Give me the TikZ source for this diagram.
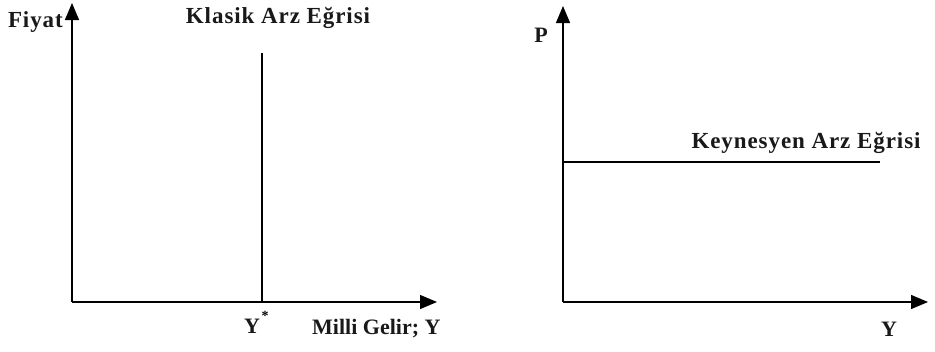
\documentclass[tikz,border=0pt]{standalone}
\usepackage{fontspec}
\setmainfont{Liberation Serif}
\newfontfamily\widefont[LetterSpace=4]{Liberation Serif}
\usetikzlibrary{arrows.meta}
\begin{document}
\begin{tikzpicture}[x=1pt,y=-1pt,
  axis/.style={line width=1.3pt,-{Triangle[width=14pt,length=17pt]}},
  curve/.style={line width=1.3pt},
  lbl/.style={font=\widefont\bfseries\fontsize{23}{25}\selectfont,inner sep=0pt,text=black!90},
  lbln/.style={font=\bfseries\fontsize{22}{24}\selectfont,inner sep=0pt,text=black!90}]
\useasboundingbox (0,0) rectangle (935,351);
% left panel
\coordinate (O1) at (72,302);
\coordinate (Y1) at (72,3);
\coordinate (X1) at (437,302);
\draw[axis] (O1) -- (Y1);
\draw[axis] (O1) -- (X1);
\coordinate (K1) at (262,53);
\coordinate (K2) at (262,302);
\draw[curve] (K1) -- (K2);
\node[lbl,anchor=east] (fiyat) at (63,22) {Fiyat};
\node[lbl] (klasik) at (278,18) {Klasik Arz Eğrisi};
\node[lbln,anchor=base] (ystar) at (252,333) {Y};
\node[inner sep=0pt,font=\bfseries\fontsize{14}{14}\selectfont] (star) at (265,316) {*};
\node[lbln,anchor=base west] (milli) at (312,334) {Milli Gelir; Y};
% right panel
\coordinate (O2) at (563,302);
\coordinate (Y2) at (563,6);
\coordinate (X2) at (928,302);
\draw[axis] (O2) -- (Y2);
\draw[axis] (O2) -- (X2);
\coordinate (H1) at (563,162);
\coordinate (H2) at (880,162);
\draw[curve] (H1) -- (H2);
\node[lbl] (keyn) at (806,143) {Keynesyen Arz Eğrisi};
\node[lbln] (p) at (541,35) {P};
\node[lbln] (y) at (889,329) {Y};
\end{tikzpicture}
\end{document}
